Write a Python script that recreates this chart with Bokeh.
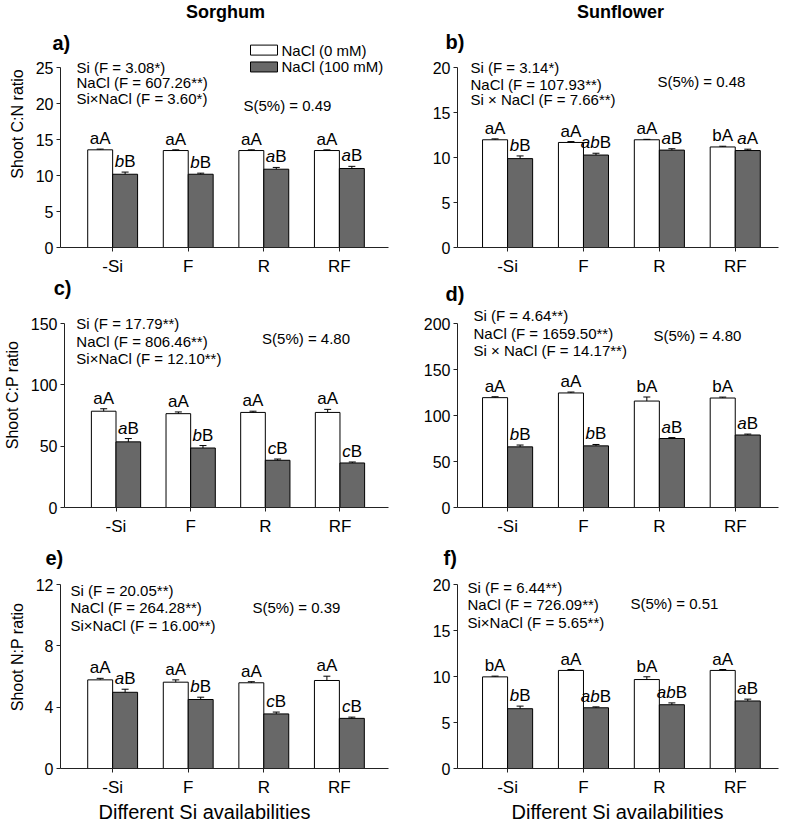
from bokeh.plotting import figure
from bokeh.models import FixedTicker, ColumnDataSource, Range1d
from bokeh.layouts import column, row
from bokeh.embed import file_html
from bokeh.resources import INLINE
from bokeh.core.properties import value

FONT = "Liberation Sans"
GRAY = "#686868"

# ---------------- data ----------------
groups = ["-Si", "F", "R", "RF"]
legend_labels = ["NaCl (0 mM)", "NaCl (100 mM)"]
crop_titles = ["Sorghum", "Sunflower"]
x_title = "Different Si availabilities"

# a) Sorghum C:N
a_ctrl = [13.6, 13.5, 13.5, 13.5]
a_ctrl_err = [0.1, 0.1, 0.1, 0.1]
a_salt = [10.2, 10.2, 10.9, 11.0]
a_salt_err = [0.3, 0.15, 0.25, 0.3]
a_ctrl_lab = ["aA", "aA", "aA", "aA"]
a_salt_it = ["b", "b", "a", "a"]
a_salt_up = ["B", "B", "B", "B"]
a_stats = ["Si (F = 3.08*)", "NaCl (F = 607.26**)", "Si\u00d7NaCl (F = 3.60*)"]
a_lsd = "S(5%) = 0.49"
a_ticks = [0, 5, 10, 15, 20, 25]
a_ylabel = "Shoot C:N ratio"

# b) Sunflower C:N
b_ctrl = [12.0, 11.7, 12.0, 11.2]
b_ctrl_err = [0.1, 0.1, 0.05, 0.08]
b_salt = [9.9, 10.3, 10.85, 10.8]
b_salt_err = [0.3, 0.2, 0.15, 0.15]
b_ctrl_lab = ["aA", "aA", "aA", "bA"]
b_salt_it = ["b", "ab", "a", "a"]
b_salt_up = ["B", "B", "B", "A"]
b_stats = ["Si (F = 3.14*)", "NaCl (F = 107.93**)", "Si \u00d7 NaCl (F = 7.66**)"]
b_lsd = "S(5%) = 0.48"
b_ticks = [0, 5, 10, 15, 20]

# c) Sorghum C:P
c_ctrl = [78.5, 76.5, 77.5, 77.5]
c_ctrl_err = [2.0, 1.4, 1.0, 2.5]
c_salt = [53.5, 48.5, 38.5, 36.3]
c_salt_err = [2.7, 2.0, 1.0, 0.8]
c_ctrl_lab = ["aA", "aA", "aA", "aA"]
c_salt_it = ["a", "b", "c", "c"]
c_salt_up = ["B", "B", "B", "B"]
c_stats = ["Si (F = 17.79**)", "NaCl (F = 806.46**)", "Si\u00d7NaCl (F = 12.10**)"]
c_lsd = "S(5%) = 4.80"
c_ticks = [0, 50, 100, 150]
c_ylabel = "Shoot C:P ratio"

# d) Sunflower C:P
d_ctrl = [119.4, 124.5, 115.7, 119.0]
d_ctrl_err = [1.0, 1.0, 4.4, 1.0]
d_salt = [65.9, 67.0, 75.0, 78.8]
d_salt_err = [2.0, 1.5, 1.0, 1.0]
d_ctrl_lab = ["aA", "aA", "bA", "bA"]
d_salt_it = ["b", "b", "a", "a"]
d_salt_up = ["B", "B", "B", "B"]
d_stats = ["Si (F = 4.64**)", "NaCl (F = 1659.50**)", "Si \u00d7 NaCl (F = 14.17**)"]
d_lsd = "S(5%) = 4.80"
d_ticks = [0, 50, 100, 150, 200]

# e) Sorghum N:P
e_ctrl = [5.78, 5.63, 5.59, 5.74]
e_ctrl_err = [0.1, 0.15, 0.07, 0.28]
e_salt = [4.97, 4.5, 3.56, 3.27]
e_salt_err = [0.2, 0.15, 0.12, 0.08]
e_ctrl_lab = ["aA", "aA", "aA", "aA"]
e_salt_it = ["a", "b", "c", "c"]
e_salt_up = ["B", "B", "B", "B"]
e_stats = ["Si (F = 20.05**)", "NaCl (F = 264.28**)", "Si\u00d7NaCl (F = 16.00**)"]
e_lsd = "S(5%) = 0.39"
e_ticks = [0, 4, 8, 12]
e_ylabel = "Shoot N:P ratio"

# f) Sunflower N:P
f_ctrl = [9.96, 10.66, 9.67, 10.66]
f_ctrl_err = [0.08, 0.1, 0.3, 0.1]
f_salt = [6.5, 6.6, 6.93, 7.34]
f_salt_err = [0.28, 0.1, 0.2, 0.2]
f_ctrl_lab = ["bA", "aA", "bA", "aA"]
f_salt_it = ["b", "ab", "ab", "a"]
f_salt_up = ["B", "B", "B", "B"]
f_stats = ["Si (F = 6.44**)", "NaCl (F = 726.09**)", "Si\u00d7NaCl (F = 5.65**)"]
f_lsd = "S(5%) = 0.51"
f_ticks = [0, 5, 10, 15, 20]

# ---------------- layout geometry (pixels) ----------------
COLS = [dict(fw=328, bl=60, br=4, x0=-0.69, x1=3.65),
        dict(fw=321, bl=65, br=7, x0=-0.66, x1=3.57)]
ROWS = [dict(fh=249, bt=0, bb=29, tick_off=68),
        dict(fh=225, bt=4, bb=38, tick_off=41),
        dict(fh=223, bt=0, bb=58, tick_off=39)]
BW = 0.33
LAB_SIZE = 17
LAB_GAP = 1
CHAR_W = {"a": 0.556, "b": 0.556, "c": 0.5, "A": 0.667, "B": 0.667}


def text_w(s, size):
    return sum(CHAR_W.get(ch, 0.6) for ch in s) * size


def make_panel(ctrl, ctrl_err, salt, salt_err, ctrl_lab, salt_it, salt_up,
               stats, lsd, ticks, ylabel, col, rw, lay):
    cg, rg = COLS[col], ROWS[rw]
    fw, fh = cg["fw"], rg["fh"]
    x0, x1 = cg["x0"], cg["x1"]
    top = max(ticks)
    y_end = top * fh / (fh - rg["tick_off"])
    y_per_px = y_end / fh

    def px_x(rel):
        return x0 + rel * (x1 - x0) / fw

    def px_y(rel):
        return y_end * (1 - rel / fh)

    p = figure(width=cg["bl"] + fw + cg["br"], height=rg["bt"] + fh + rg["bb"],
               x_range=Range1d(x0, x1), y_range=Range1d(0, y_end),
               output_backend="svg", toolbar_location=None, tools="",
               min_border_left=cg["bl"], min_border_right=cg["br"],
               min_border_top=rg["bt"], min_border_bottom=rg["bb"])
    p.outline_line_color = None
    p.xgrid.visible = False
    p.ygrid.visible = False
    p.background_fill_color = "white"
    p.border_fill_color = "white"

    xs = list(range(len(groups)))
    src_c = ColumnDataSource(dict(
        x=[i - BW / 2 for i in xs], top=ctrl,
        up=[v + e for v, e in zip(ctrl, ctrl_err)],
        ly=[v + e + LAB_GAP * y_per_px for v, e in zip(ctrl, ctrl_err)], lab=ctrl_lab))
    offs = [-(text_w(a + b, LAB_SIZE)) / 2 + text_w(a, LAB_SIZE) for a, b in zip(salt_it, salt_up)]
    src_s = ColumnDataSource(dict(
        x=[i + BW / 2 for i in xs], top=salt,
        up=[v + e for v, e in zip(salt, salt_err)],
        ly=[v + e + LAB_GAP * y_per_px for v, e in zip(salt, salt_err)],
        it=salt_it, upc=salt_up, off=offs))

    p.vbar(x="x", top="top", bottom=0, width=BW, source=src_c,
           fill_color="white", line_color="black", line_width=1)
    p.vbar(x="x", top="top", bottom=0, width=BW, source=src_s,
           fill_color=GRAY, line_color="black", line_width=1)
    for src in (src_c, src_s):
        p.segment(x0="x", y0="top", x1="x", y1="up", source=src,
                  line_color="black", line_width=1)
        p.scatter(x="x", y="up", source=src, marker="dash", size=7,
                  line_color="black", line_width=1)

    common = dict(text_font=value(FONT), text_font_size=f"{LAB_SIZE}px",
                  text_baseline="bottom", text_color="black")
    p.text(x="x", y="ly", text="lab", source=src_c, text_align="center", **common)
    p.text(x="x", y="ly", text="it", source=src_s, x_offset="off", text_align="right",
           text_font_style="italic", **common)
    p.text(x="x", y="ly", text="upc", source=src_s, x_offset="off", text_align="left", **common)

    # axes
    xa = p.xaxis[0]
    xa.ticker = FixedTicker(ticks=xs)
    xa.major_label_overrides = {i: g for i, g in zip(xs, groups)}
    xa.minor_tick_line_color = None
    xa.major_tick_out = 4
    xa.major_tick_in = 0
    xa.major_label_standoff = 5
    xa.major_label_text_font = FONT
    xa.major_label_text_font_size = "17px"
    xa.major_label_text_color = "black"
    xa.axis_line_color = "#222222"
    xa.major_tick_line_color = "#222222"

    ya = p.yaxis[0]
    ya.ticker = FixedTicker(ticks=ticks)
    ya.bounds = (0, top)
    ya.minor_tick_line_color = None
    ya.major_tick_out = 4
    ya.major_tick_in = 0
    ya.major_label_standoff = 3
    ya.major_label_text_font = FONT
    ya.major_label_text_font_size = "16px"
    ya.major_label_text_color = "black"
    ya.axis_line_color = "#222222"
    ya.major_tick_line_color = "#222222"
    if ylabel:
        ya.axis_label = ylabel
        ya.axis_label_text_font = FONT
        ya.axis_label_text_font_size = "16px"
        ya.axis_label_text_font_style = "normal"
        ya.axis_label_text_color = "black"
        ya.axis_label_standoff = 7

    def lab(text, rx, ry, size, align="left", style="normal"):
        p.text(x=[px_x(rx)], y=[px_y(ry)], text=[text], text_font=value(FONT),
               text_font_size=f"{size}px", text_font_style=style, text_align=align,
               text_baseline="middle", text_color="black", level="overlay")

    if "title" in lay:
        t, tx, ty = lay["title"]
        lab(t, tx, ty, 18, align="center", style="bold")
    pl, plx, ply = lay["plabel"]
    lab(pl, plx, ply, 20, style="bold")
    for s, ry in zip(stats, lay["stats_y"]):
        lab(s, lay["stats_x"], ry, 15)
    lab(lsd, lay["lsd"][0], lay["lsd"][1], 15)
    if "xlabel" in lay:
        lab(x_title, lay["xlabel"], fh + 43, 20, align="center")
    if "legend" in lay:
        bx, ys_, tx = lay["legend"]
        p.rect(x=[px_x(bx)] * 2, y=[px_y(v) for v in ys_], width=27, height=10,
               width_units="screen", height_units="screen",
               fill_color=["white", GRAY], line_color="black", line_width=1)
        for t, v in zip(legend_labels, ys_):
            lab(t, tx, v, 15)
    return p


pa = make_panel(a_ctrl, a_ctrl_err, a_salt, a_salt_err, a_ctrl_lab, a_salt_it, a_salt_up,
                a_stats, a_lsd, a_ticks, a_ylabel, 0, 0,
                dict(title=(crop_titles[0], 165, 12), plabel=("a)", -8, 43), stats_x=16,
                     stats_y=[68, 83, 99], lsd=(183, 106), legend=(203.5, [50, 67], 221)))
pb = make_panel(b_ctrl, b_ctrl_err, b_salt, b_salt_err, b_ctrl_lab, b_salt_it, b_salt_up,
                b_stats, b_lsd, b_ticks, None, 1, 0,
                dict(title=(crop_titles[1], 163, 12), plabel=("b)", -12, 42), stats_x=13,
                     stats_y=[68, 85, 100], lsd=(200, 82)))
pc = make_panel(c_ctrl, c_ctrl_err, c_salt, c_salt_err, c_ctrl_lab, c_salt_it, c_salt_up,
                c_stats, c_lsd, c_ticks, c_ylabel, 0, 1,
                dict(plabel=("c)", -11, 5), stats_x=12, stats_y=[41, 59, 76], lsd=(200, 56)))
pd_ = make_panel(d_ctrl, d_ctrl_err, d_salt, d_salt_err, d_ctrl_lab, d_salt_it, d_salt_up,
                 d_stats, d_lsd, d_ticks, None, 1, 1,
                 dict(plabel=("d)", -12, 11), stats_x=16, stats_y=[33, 51, 68], lsd=(196, 53)))
pe = make_panel(e_ctrl, e_ctrl_err, e_salt, e_salt_err, e_ctrl_lab, e_salt_it, e_salt_up,
                e_stats, e_lsd, e_ticks, e_ylabel, 0, 2,
                dict(plabel=("e)", -15, 12), stats_x=10, stats_y=[45, 62, 80], lsd=(192, 62),
                     xlabel=144))
pf = make_panel(f_ctrl, f_ctrl_err, f_salt, f_salt_err, f_ctrl_lab, f_salt_it, f_salt_up,
                f_stats, f_lsd, f_ticks, None, 1, 2,
                dict(plabel=("f)", -14, 12), stats_x=10, stats_y=[42, 59, 77], lsd=(173, 58),
                     xlabel=160))

layout = column(row(pa, pb), row(pc, pd_), row(pe, pf))
open("out.html", "w").write(file_html(layout, INLINE))
